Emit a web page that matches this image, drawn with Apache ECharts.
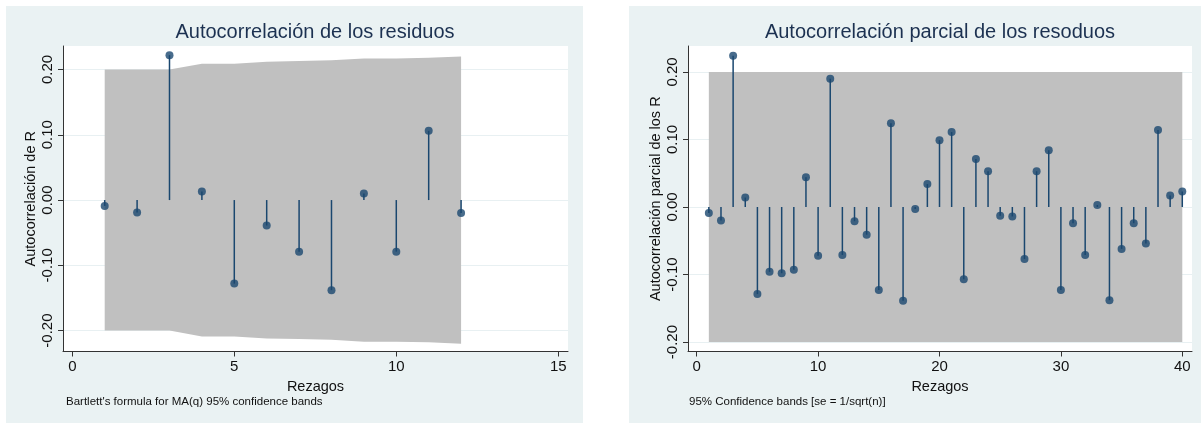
<!DOCTYPE html>
<html>
<head>
<meta charset="utf-8">
<script src="https://cdn.jsdelivr.net/npm/echarts@6/dist/echarts.min.js"></script>
<style>
html, body { margin: 0; padding: 0; background: #fff; }
#chart { width: 1201px; height: 424px; }
</style>
</head>
<body>
<div id="chart"></div>
<script>
// autocorrelación (panel izquierdo)
var acfLags = [1, 2, 3, 4, 5, 6, 7, 8, 9, 10, 11, 12];
var acfValues = [-0.009, -0.019, 0.222, 0.013, -0.128, -0.039, -0.079, -0.138, 0.010, -0.079, 0.106, -0.020];
var acfBand = [0.200, 0.200, 0.200, 0.209, 0.209, 0.212, 0.213, 0.214, 0.217, 0.217, 0.218, 0.220];
var acfXTicks = [0, 5, 10, 15];

// autocorrelación parcial (panel derecho)
var pacfLags = [1, 2, 3, 4, 5, 6, 7, 8, 9, 10, 11, 12, 13, 14, 15, 16, 17, 18, 19, 20,
                21, 22, 23, 24, 25, 26, 27, 28, 29, 30, 31, 32, 33, 34, 35, 36, 37, 38, 39, 40];
var pacfValues = [-0.009, -0.020, 0.224, 0.014, -0.129, -0.096, -0.098, -0.093, 0.044, -0.072,
                  0.190, -0.071, -0.021, -0.041, -0.123, 0.124, -0.139, -0.003, 0.034, 0.099,
                  0.111, -0.107, 0.071, 0.053, -0.013, -0.014, -0.077, 0.053, 0.084, -0.123,
                  -0.024, -0.071, 0.003, -0.138, -0.062, -0.024, -0.054, 0.114, 0.017, 0.023];
var pacfBandLags = [1, 40];
var pacfBand = [0.200, 0.200];
var pacfXTicks = [0, 10, 20, 30, 40];

var yTicks = [-0.2, -0.1, 0, 0.1, 0.2];

var NAVY = '#1a476f';
var FONT = '"Liberation Sans", Arial, Helvetica, sans-serif';

var myChart = echarts.init(document.getElementById('chart'));

function xAxisOpt(idx, min, max, ticks) {
    return {
        type: 'value', gridIndex: idx, min: min, max: max,
        name: 'Rezagos', nameLocation: 'middle', nameGap: 23,
        nameTextStyle: { fontFamily: FONT, fontSize: 14.5, color: '#111' },
        axisLine: { show: true, onZero: false, lineStyle: { color: '#333', width: 1 } },
        axisTick: { show: true, length: 5, customValues: ticks, lineStyle: { color: '#333' } },
        axisLabel: { customValues: ticks, margin: 8, fontFamily: FONT, fontSize: 15, color: '#111' },
        splitLine: { show: false }
    };
}

function yAxisOpt(idx, min, max, name) {
    return {
        type: 'value', gridIndex: idx, min: min, max: max,
        name: name, nameLocation: 'middle', nameGap: 25,
        nameTextStyle: { fontFamily: FONT, fontSize: 14.5, color: '#111' },
        axisLine: { show: true, onZero: false, lineStyle: { color: '#333', width: 1 } },
        axisTick: { show: true, length: 5, customValues: yTicks, lineStyle: { color: '#333' } },
        axisLabel: {
            customValues: yTicks, rotate: 90, margin: 8,
            fontFamily: FONT, fontSize: 15, color: '#111',
            formatter: function (v) { return v.toFixed(2); }
        },
        splitLine: { show: true, lineStyle: { color: '#e8f0f2', width: 1 } }
    };
}

function bandSeries(idx, lags, upper) {
    return {
        type: 'custom', xAxisIndex: idx, yAxisIndex: idx, z: 1, silent: true,
        data: lags.map(function (l, i) { return [l, upper[i]]; }),
        renderItem: function (params, api) {
            if (params.dataIndex !== 0) return null;
            var pts = [];
            for (var i = 0; i < lags.length; i++) pts.push(api.coord([lags[i], upper[i]]));
            for (var j = lags.length - 1; j >= 0; j--) pts.push(api.coord([lags[j], -upper[j]]));
            return { type: 'polygon', shape: { points: pts }, style: { fill: '#c0c0c0' } };
        }
    };
}

function stemSeries(idx, lags, vals) {
    return {
        type: 'custom', xAxisIndex: idx, yAxisIndex: idx, z: 3, silent: true,
        data: lags.map(function (l, i) { return [l, vals[i]]; }),
        renderItem: function (params, api) {
            var p0 = api.coord([api.value(0), 0]);
            var p1 = api.coord([api.value(0), api.value(1)]);
            return {
                type: 'line',
                shape: { x1: p0[0], y1: p0[1], x2: p1[0], y2: p1[1] },
                style: { stroke: NAVY, lineWidth: 1.5 }
            };
        }
    };
}

function dotSeries(idx, lags, vals) {
    return {
        type: 'scatter', xAxisIndex: idx, yAxisIndex: idx, z: 4,
        symbol: 'circle', symbolSize: 8,
        itemStyle: { color: NAVY },
        data: lags.map(function (l, i) { return [l, vals[i]]; })
    };
}

myChart.setOption({
    animation: false,
    backgroundColor: '#fff',
    graphic: [
        { type: 'rect', z: -10, shape: { x: 6, y: 6, width: 577, height: 417 }, style: { fill: '#eaf2f3' } },
        { type: 'rect', z: -10, shape: { x: 629, y: 6, width: 572, height: 417 }, style: { fill: '#eaf2f3' } },
        { type: 'text', x: 315, y: 32, style: { text: 'Autocorrelación de los residuos', font: '20px ' + FONT, fill: '#1c3151', textAlign: 'center', textVerticalAlign: 'middle' } },
        { type: 'text', x: 940, y: 32, style: { text: 'Autocorrelación parcial de los resoduos', font: '20px ' + FONT, fill: '#1c3151', textAlign: 'center', textVerticalAlign: 'middle' } },
        { type: 'text', x: 66, y: 402, style: { text: "Bartlett's formula for MA(q) 95% confidence bands", font: '11.5px ' + FONT, fill: '#111', textAlign: 'left', textVerticalAlign: 'middle' } },
        { type: 'text', x: 689, y: 402, style: { text: '95% Confidence bands [se = 1/sqrt(n)]', font: '11.5px ' + FONT, fill: '#111', textAlign: 'left', textVerticalAlign: 'middle' } }
    ],
    grid: [
        { left: 63, top: 46, width: 505, height: 305.5, show: true, backgroundColor: '#fff', borderWidth: 0 },
        { left: 688, top: 46, width: 504, height: 305.5, show: true, backgroundColor: '#fff', borderWidth: 0 }
    ],
    xAxis: [
        xAxisOpt(0, -0.287, 15.30, acfXTicks),
        xAxisOpt(1, -0.717, 40.80, pacfXTicks)
    ],
    yAxis: [
        yAxisOpt(0, -0.232, 0.236, 'Autocorrelación de R'),
        yAxisOpt(1, -0.214, 0.2385, 'Autocorrelación parcial de los R')
    ],
    series: [
        bandSeries(0, acfLags, acfBand),
        stemSeries(0, acfLags, acfValues),
        dotSeries(0, acfLags, acfValues),
        bandSeries(1, pacfBandLags, pacfBand),
        stemSeries(1, pacfLags, pacfValues),
        dotSeries(1, pacfLags, pacfValues)
    ]
});
</script>
</body>
</html>
